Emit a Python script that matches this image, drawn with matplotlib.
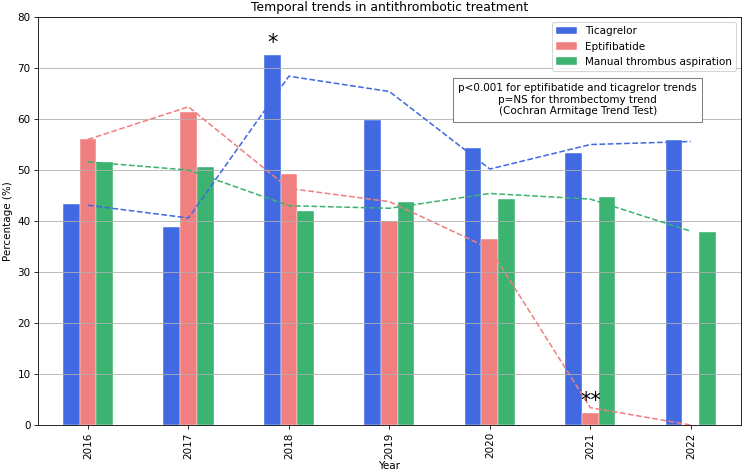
import pandas as pd
import matplotlib
matplotlib.use('Agg')
import matplotlib.pyplot as plt

years = [2016, 2017, 2018, 2019, 2020, 2021, 2022]

# bar values (%)
ticagrelor = [43.4, 38.9, 72.6, 59.8, 54.4, 53.3, 55.9]
eptifibatide = [56.0, 61.3, 49.2, 40.0, 36.4, 2.4, 0.0]
aspiration = [51.6, 50.5, 42.0, 43.7, 44.4, 44.7, 37.9]

# dashed trend lines (%)
trend_tica = [43.1, 40.6, 68.4, 65.4, 50.2, 55.0, 55.6]
trend_epti = [56.0, 62.4, 46.4, 43.8, 34.6, 3.4, 0.0]
trend_asp = [51.6, 50.0, 43.0, 42.5, 45.4, 44.3, 38.0]

colors = ['royalblue', 'lightcoral', 'mediumseagreen']

df = pd.DataFrame({'Ticagrelor': ticagrelor,
                   'Eptifibatide': eptifibatide,
                   'Manual thrombus aspiration': aspiration},
                  index=years)

fig, ax = plt.subplots(figsize=(10, 6.371), dpi=74.4)
df.plot(kind='bar', ax=ax, color=colors, width=0.5, edgecolor='white', linewidth=0.4)

x = range(len(years))
ax.plot(x, trend_tica, '--', color=colors[0])
ax.plot(x, trend_epti, '--', color=colors[1])
ax.plot(x, trend_asp, '--', color=colors[2])

# significance marks
w = 0.5 / 3
ax.text(2 - w, ticagrelor[2] + 0.3, '*', ha='center', va='bottom', fontsize=20)
ax.text(5, eptifibatide[5] + 0.3, '**', ha='center', va='bottom', fontsize=20)

ax.text(0.768, 0.797,
        'p<0.001 for eptifibatide and ticagrelor trends\n'
        'p=NS for thrombectomy trend\n'
        '(Cochran Armitage Trend Test)',
        transform=ax.transAxes, ha='center', va='center', multialignment='center',
        bbox=dict(boxstyle='square,pad=0.5', facecolor='white', edgecolor='gray'))

ax.set_ylim(0, 80)
ax.set_title('Temporal trends in antithrombotic treatment')
ax.set_xlabel('Year', labelpad=2)
ax.set_ylabel('Percentage (%)')
ax.grid(axis='y')
ax.legend(loc='upper right')

plt.subplots_adjust(left=0.0507, right=0.996, top=0.964, bottom=0.1034)
plt.savefig('out.png')
